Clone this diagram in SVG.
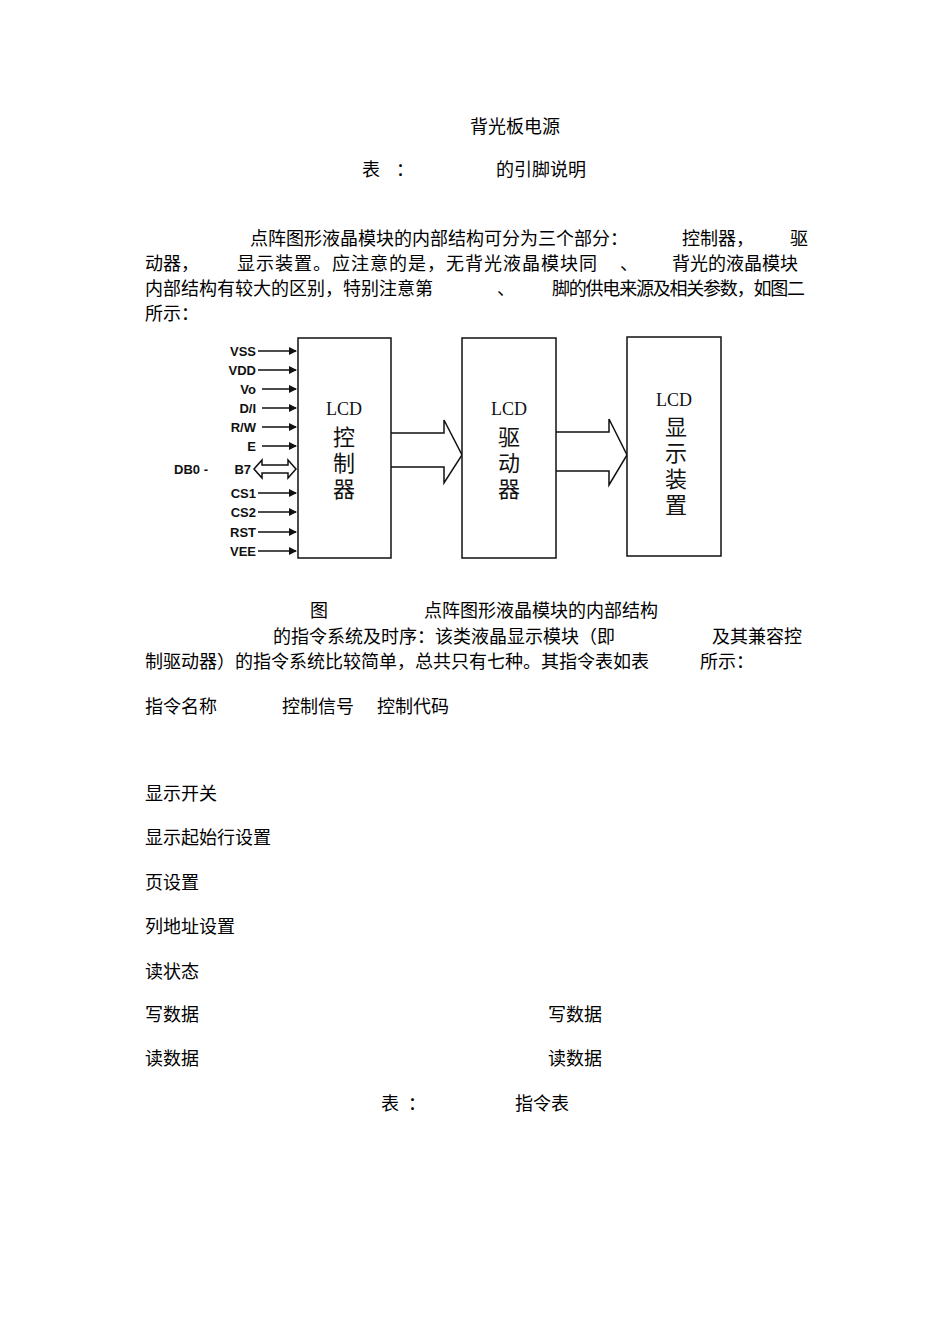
<svg xmlns="http://www.w3.org/2000/svg" width="950" height="1344" viewBox="0 0 950 1344">
<style>
.t{font-family:"Liberation Serif","Noto Sans CJK SC",serif;font-size:18px;fill:#000}
.s{font-family:"Liberation Sans","Noto Sans CJK SC",sans-serif;font-size:13px;font-weight:bold;fill:#111;text-anchor:end}
.b{fill:#fff;stroke:#111;stroke-width:1.5}
.l{font-family:"Liberation Serif",serif;font-size:18px;fill:#111;text-anchor:middle}
.c{font-family:"Noto Sans CJK SC",sans-serif;font-size:22px;fill:#111;writing-mode:vertical-rl;letter-spacing:4px}
.w{stroke:#111;stroke-width:1.5;marker-end:url(#ah)}
</style>
<defs><marker id="ah" markerWidth="8" markerHeight="8" refX="7" refY="4" orient="auto" markerUnits="userSpaceOnUse"><path d="M0,0 L8,4 L0,8 z" fill="#111"/></marker></defs>
<rect width="950" height="1344" fill="#fff"/>
<g id="text">
<text class="t" x="470" y="133">背光板电源</text>
<text class="t" x="362" y="176">表</text><text class="t" x="396" y="176">：</text><text class="t" x="496" y="176">的引脚说明</text>
<text class="t" x="250" y="245">点阵图形液晶模块的内部结构可分为三个部分：</text><text class="t" x="682" y="245">控制器，</text><text class="t" x="790" y="245">驱</text>
<text class="t" x="145" y="270">动器，</text><text class="t" x="237" y="270" textLength="360">显示装置。应注意的是，无背光液晶模块同</text><text class="t" x="620" y="270">、</text><text class="t" x="672" y="270">背光的液晶模块</text>
<text class="t" x="145" y="295">内部结构有较大的区别，特别注意第</text><text class="t" x="497" y="295">、</text><text class="t" x="552" y="295" textLength="253">脚的供电来源及相关参数，如图二</text>
<text class="t" x="145" y="320">所示：</text>
<text class="t" x="310" y="617">图</text><text class="t" x="424" y="617">点阵图形液晶模块的内部结构</text>
<text class="t" x="273" y="643">的指令系统及时序：该类液晶显示模块（即</text><text class="t" x="712" y="643">及其兼容控</text>
<text class="t" x="145" y="668">制驱动器）的指令系统比较简单，总共只有七种。其指令表如表</text><text class="t" x="700" y="668">所示：</text>
<text class="t" x="145" y="713">指令名称</text><text class="t" x="282" y="713">控制信号</text><text class="t" x="377" y="713">控制代码</text>
<text class="t" x="145" y="800">显示开关</text>
<text class="t" x="145" y="844">显示起始行设置</text>
<text class="t" x="145" y="889">页设置</text>
<text class="t" x="145" y="933">列地址设置</text>
<text class="t" x="145" y="978">读状态</text>
<text class="t" x="145" y="1021">写数据</text><text class="t" x="548" y="1021">写数据</text>
<text class="t" x="145" y="1065">读数据</text><text class="t" x="548" y="1065">读数据</text>
<text class="t" x="381" y="1110">表</text><text class="t" x="408" y="1110">：</text><text class="t" x="515" y="1110">指令表</text>
</g>
<g id="signals">
<text class="s" x="256" y="356">VSS</text><text class="s" x="256" y="375">VDD</text><text class="s" x="256" y="394">Vo</text><text class="s" x="256" y="413">D/I</text><text class="s" x="256" y="432">R/W</text><text class="s" x="256" y="451">E</text>
<text class="s" x="208" y="474">DB0 -</text><text class="s" x="251" y="474">B7</text>
<text class="s" x="256" y="498">CS1</text><text class="s" x="256" y="517">CS2</text><text class="s" x="256" y="537">RST</text><text class="s" x="256" y="556">VEE</text>
</g>
<g id="connectors">
<line class="w" x1="258" y1="351" x2="296" y2="351"/><line class="w" x1="258" y1="370" x2="296" y2="370"/><line class="w" x1="262" y1="389" x2="296" y2="389"/><line class="w" x1="262" y1="408" x2="296" y2="408"/><line class="w" x1="262" y1="427" x2="296" y2="427"/><line class="w" x1="262" y1="446" x2="296" y2="446"/>
<line class="w" x1="258" y1="493" x2="296" y2="493"/><line class="w" x1="258" y1="512" x2="296" y2="512"/><line class="w" x1="258" y1="532" x2="296" y2="532"/><line class="w" x1="258" y1="551" x2="296" y2="551"/>
<path d="M254,469 L262,460 L262,465 L288,465 L288,460 L296,469 L288,478 L288,473 L262,473 L262,478 Z" fill="#fff" stroke="#111" stroke-width="1.5"/>
<path d="M391,433 L444,433 L444,420 L462,455 L444,483 L444,467 L391,467" fill="#fff" stroke="#111" stroke-width="1.5"/>
<path d="M556,432 L609,432 L609,419 L627,455 L609,485 L609,471 L556,471" fill="#fff" stroke="#111" stroke-width="1.5"/>
</g>
<g id="controller"><rect class="b" x="298" y="338" width="93" height="220"/><text class="l" x="344" y="415">LCD</text><text class="c" x="344" y="426">控制器</text></g>
<g id="driver"><rect class="b" x="462" y="338" width="94" height="220"/><text class="l" x="509" y="415">LCD</text><text class="c" x="509" y="426">驱动器</text></g>
<g id="display"><rect class="b" x="627" y="337" width="94" height="219"/><text class="l" x="674" y="406">LCD</text><text class="c" x="676" y="416">显示装置</text></g>
</svg>
